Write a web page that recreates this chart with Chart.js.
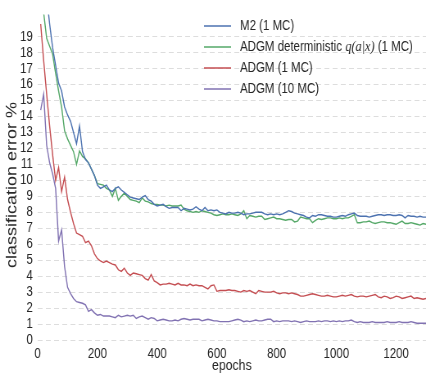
<!DOCTYPE html>
<html>
<head>
<meta charset="utf-8">
<script src="https://cdn.jsdelivr.net/npm/chart.js@4.4.0/dist/chart.umd.min.js"></script>
<style>
  html, body { margin: 0; padding: 0; background: #fff; overflow: hidden; }
  /* the source figure is horizontally squashed: draw 520 wide, show at 426px */
  #chart { display: block; width: 426px !important; height: 376px !important; }
</style>
</head>
<body>
<canvas id="chart" width="520" height="376" style="width:426px;height:376px"></canvas>
<script>
// epochs (x) shared by all four curves
const epochs = [
  10, 20, 30, 40, 50, 60, 70, 80, 90, 100,
  110, 120, 130, 140, 150, 160, 170, 180, 190, 200,
  210, 220, 230, 240, 250, 260, 270, 280, 290, 300,
  310, 320, 330, 340, 350, 360, 370, 380, 390, 400,
  410, 420, 430, 440, 450, 460, 470, 480, 490, 500,
  510, 520, 530, 540, 550, 560, 570, 580, 590, 600,
  610, 620, 630, 640, 650, 660, 670, 680, 690, 700,
  710, 720, 730, 740, 750, 760, 770, 780, 790, 800,
  810, 820, 830, 840, 850, 860, 870, 880, 890, 900,
  910, 920, 930, 940, 950, 960, 970, 980, 990, 1000,
  1010, 1020, 1030, 1040, 1050, 1060, 1070, 1080, 1090, 1100,
  1110, 1120, 1130, 1140, 1150, 1160, 1170, 1180, 1190, 1200,
  1210, 1220, 1230, 1240, 1250, 1260, 1270, 1280, 1290, 1300
];

// M2 (1 MC)
const m2 = [
  26, 24, 21.5, 19.8, 18.3, 17.2, 16.1, 15.6, 14.6, 14.1,
  13.7, 13.0, 12.3, 13.4, 11.8, 11.3, 11.1, 10.7, 10.3, 9.7,
  9.5, 9.6, 9.7, 9.4, 9.3, 9.5, 9.6, 9.4, 9.25, 9.1,
  8.95, 8.9, 8.85, 8.8, 8.95, 9.05, 8.8, 8.7, 8.5, 8.4,
  8.45, 8.5, 8.35, 8.25, 8.3, 8.3, 8.3, 8.1, 8.25, 8.2,
  8.15, 8.2, 8.35, 8.2, 8.1, 8.3, 8.1, 8.15, 8.1, 8.15,
  8.0, 7.95, 7.9, 8.0, 7.95, 7.95, 8.0, 7.95, 7.85, 7.9,
  7.9, 7.95, 8.0, 8.0, 8.0, 7.9, 7.85, 7.9, 7.85, 7.9,
  7.85, 7.9, 8.0, 8.1, 8.05, 7.95, 7.9, 7.85, 7.8, 7.7,
  7.65, 7.8, 7.75, 7.85, 7.85, 7.8, 7.75, 7.75, 7.7, 7.7,
  7.75, 7.8, 7.75, 7.85, 7.9, 7.95, 7.8, 7.75, 7.75, 7.75,
  7.7, 7.75, 7.8, 7.85, 7.85, 7.8, 7.85, 7.85, 7.8, 7.8,
  7.85, 7.8, 7.65, 7.8, 7.75, 7.75, 7.7, 7.75, 7.7, 7.7
];

// ADGM deterministic q(a|x) (1 MC)
const adgmDet = [
  23, 20.5, 18.9, 18.4, 17.9, 16.7, 15.6, 14.6, 13.1, 12.6,
  12.2, 11.8, 11.0, 11.85, 11.5, 11.35, 11.1, 10.7, 10.3, 9.8,
  9.75, 9.7, 9.5, 9.4, 9.0, 9.5, 8.75, 9.0, 9.2, 9.0,
  8.8, 8.75, 8.7, 8.6, 8.9, 8.7, 8.65, 8.55, 8.5, 8.5,
  8.45, 8.45, 8.4, 8.45, 8.4, 8.4, 8.4, 8.45, 8.2, 8.1,
  8.05, 8.0, 8.05, 8.0, 8.1, 8.05, 8.0, 7.95, 7.85, 7.8,
  7.85, 7.9, 7.85, 7.85, 7.9, 7.85, 7.8, 7.9, 8.1, 7.6,
  7.8, 7.75, 7.7, 7.75, 7.75, 7.55, 7.6, 7.65, 7.7, 7.6,
  7.6, 7.55, 7.5, 7.55, 7.55, 7.4, 7.45, 7.7, 7.65, 7.6,
  7.6, 7.35, 7.5, 7.6, 7.55, 7.6, 7.65, 7.65, 7.6, 7.6,
  7.65, 7.6, 7.65, 7.65, 7.75, 7.85, 7.35, 7.35, 7.4, 7.4,
  7.45, 7.35, 7.3, 7.35, 7.4, 7.4, 7.35, 7.35, 7.3, 7.25,
  7.35, 7.45, 7.3, 7.3, 7.35, 7.3, 7.25, 7.2, 7.3, 7.25
];

// ADGM (1 MC)
const adgm1 = [
  19.8, 17.5, 15.4, 13.4, 11.6, 10.0, 10.8, 9.3, 10.2, 8.8,
  8.0, 7.3, 6.7, 6.6, 6.5, 6.1, 6.2, 5.9, 5.4, 5.1,
  4.95, 4.85, 4.95, 4.85, 4.75, 4.7, 4.4, 4.3, 4.5, 4.2,
  4.05, 4.2, 4.15, 4.1, 4.05, 3.85, 3.75, 4.1, 3.7, 3.6,
  3.45, 3.5, 3.5, 3.55, 3.5, 3.45, 3.55, 3.45, 3.45, 3.4,
  3.5, 3.4, 3.45, 3.4, 3.4, 3.3, 3.2, 3.4, 3.45, 3.05,
  3.1, 3.1, 3.1, 3.15, 3.1, 3.1, 3.05, 3.0, 3.1, 3.05,
  3.1, 3.0, 2.9, 3.1, 3.05, 3.0, 3.0, 3.0, 3.05, 2.95,
  2.9, 2.95, 2.95, 2.9, 2.95, 2.9, 2.85, 2.75, 2.75, 2.8,
  2.85, 2.9, 2.85, 2.8, 2.75, 2.75, 2.8, 2.75, 2.7, 2.7,
  2.75, 2.8, 2.75, 2.8, 2.85, 2.75, 2.7, 2.75, 2.75, 2.7,
  2.75, 2.8, 2.85, 2.7, 2.65, 2.75, 2.7, 2.6, 2.65, 2.75,
  2.7, 2.6, 2.65, 2.7, 2.75, 2.6, 2.65, 2.6, 2.55, 2.6
];

// ADGM (10 MC)
const adgm10 = [
  14.4, 15.4, 12.2, 11.1, 10.4, 9.5, 6.2, 6.9, 4.6, 3.3,
  2.9, 2.6, 2.4, 2.35, 2.3, 2.2, 1.8, 1.9, 1.7, 1.55,
  1.6, 1.5, 1.5, 1.5, 1.45, 1.4, 1.55, 1.45, 1.5, 1.55,
  1.5, 1.55, 1.35, 1.45, 1.5, 1.4, 1.3, 1.4, 1.35, 1.2,
  1.25, 1.3, 1.25, 1.2, 1.2, 1.25, 1.2, 1.3, 1.35, 1.3,
  1.25, 1.3, 1.3, 1.3, 1.2, 1.25, 1.3, 1.25, 1.2, 1.2,
  1.15, 1.15, 1.15, 1.15, 1.2, 1.25, 1.3, 1.25, 1.15, 1.2,
  1.15, 1.2, 1.25, 1.2, 1.2, 1.25, 1.3, 1.3, 1.15, 1.2,
  1.15, 1.2, 1.2, 1.2, 1.15, 1.2, 1.15, 1.1, 1.15, 1.2,
  1.15, 1.15, 1.15, 1.2, 1.15, 1.2, 1.2, 1.15, 1.2, 1.15,
  1.2, 1.15, 1.2, 1.2, 1.25, 1.15, 1.1, 1.15, 1.1, 1.1,
  1.1, 1.15, 1.1, 1.1, 1.1, 1.1, 1.15, 1.1, 1.1, 1.1,
  1.15, 1.1, 1.1, 1.1, 1.15, 1.1, 1.05, 1.05, 1.05, 1.05
];

const xTicks = [0, 200, 400, 600, 800, 1000, 1200];
const yTicks = [0, 1, 2, 3, 4, 5, 6, 7, 8, 9, 10, 11, 12, 13, 14, 15, 16, 17, 18, 19];

const FONT = "'Liberation Sans', Arial, sans-serif";
const INK = '#262626';

const series = [
  { label: 'M2 (1 MC)', data: m2, color: '#4c72b0' },
  { label: 'ADGM deterministic', math: 'q(a|x)', tail: ' (1 MC)', data: adgmDet, color: '#55a868' },
  { label: 'ADGM (1 MC)', data: adgm1, color: '#c44e52' },
  { label: 'ADGM (10 MC)', data: adgm10, color: '#8172b2' },
];

// legend with mixed fonts (math part in italic serif) + y label, which sits
// a bit below the axis centre in the original
const paperPlugin = {
  id: 'paperText',
  afterDraw(chart) {
    const ctx = chart.ctx;
    ctx.save();
    ctx.textBaseline = 'middle';
    series.forEach((s, i) => {
      const y = 26 + i * 21;
      ctx.strokeStyle = s.color;
      ctx.lineWidth = 1.5;
      ctx.beginPath();
      ctx.moveTo(249, y);
      ctx.lineTo(282, y);
      ctx.stroke();
      ctx.fillStyle = INK;
      let x = 293;
      ctx.font = '14px ' + FONT;
      ctx.fillText(s.label, x, y);
      x += ctx.measureText(s.label).width;
      if (s.math) {
        x += 4;
        ctx.font = 'italic 15px "Liberation Serif", "DejaVu Serif", serif';
        ctx.fillText(s.math, x, y);
        x += ctx.measureText(s.math).width;
        ctx.font = '14px ' + FONT;
        ctx.fillText(s.tail, x, y);
      }
    });

    ctx.translate(15, 185);
    ctx.rotate(-Math.PI / 2);
    ctx.textAlign = 'center';
    ctx.font = '18px ' + FONT;
    ctx.fillText('classification error %', 0, 0);
    ctx.restore();
  }
};

new Chart(document.getElementById('chart'), {
  type: 'line',
  data: {
    labels: epochs,
    datasets: series.map(s => ({
      label: s.label,
      data: s.data.map((v, i) => ({ x: epochs[i], y: v })),
      borderColor: s.color,
      backgroundColor: s.color,
      borderWidth: 1.4,
      pointRadius: 0,
      tension: 0,
      fill: false,
    }))
  },
  options: {
    responsive: false,
    animation: false,
    layout: { padding: 0 },
    plugins: {
      legend: { display: false },
      tooltip: { enabled: false },
    },
    scales: {
      x: {
        type: 'linear',
        min: 0,
        max: 1300,
        afterBuildTicks: axis => { axis.ticks = xTicks.map(v => ({ value: v })); },
        afterFit: axis => { axis.height = 36; },
        grid: { display: false, drawTicks: false },
        border: { display: false },
        ticks: { color: INK, padding: 6, maxRotation: 0, autoSkip: false, callback: v => String(v), font: { size: 14, family: FONT } },
        title: { display: true, text: 'epochs', color: INK, padding: { top: 0, bottom: 1 }, font: { size: 15, family: FONT } },
      },
      y: {
        min: 0,
        max: 20.4,
        afterBuildTicks: axis => { axis.ticks = yTicks.map(v => ({ value: v })); },
        afterFit: axis => { axis.width = 46; },
        grid: { color: '#dddddd', lineWidth: 1, drawTicks: false },
        border: { display: false, dash: [6, 4] },
        ticks: { color: INK, padding: 6, autoSkip: false, font: { size: 14, family: FONT } },
        title: { display: false },
      }
    }
  },
  plugins: [paperPlugin]
});
</script>
</body>
</html>
